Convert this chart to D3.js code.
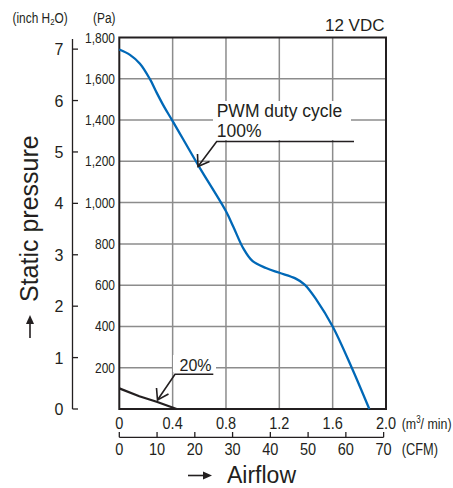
<!DOCTYPE html>
<html><head><meta charset="utf-8">
<script src="https://cdn.jsdelivr.net/npm/d3@7"></script>
<style>
html,body{margin:0;padding:0;background:#fff;}
svg{display:block;}
text{font-family:"Liberation Sans",Arial,sans-serif;fill:#231f20;}
</style></head>
<body><svg id="c" width="453" height="488"></svg>
<script>
// ---- data ----
const flow100 = [0,0.08,0.155,0.23,0.28,0.34,0.4,0.6,0.8,0.855,0.93,1.0,1.1,1.2,1.32,1.39,1.48,1.6,1.74,1.875];
const pres100 = [1742,1716,1673,1598,1533,1460,1395,1172,958,883,778,716,683,660,633,603,528,400,205,0];
const flow20 = [0,0.15,0.28,0.43];
const pres20 = [100,62,35,0];
const xTicks = [0,0.4,0.8,1.2,1.6,2.0];
const xTickLabels = ["0","0.4","0.8","1.2","1.6","2.0"];
const paTicks = [200,400,600,800,1000,1200,1400,1600,1800];
const paTickLabels = ["200","400","600","800","1,000","1,200","1,400","1,600","1,800"];
const inchTicks = [0,1,2,3,4,5,6,7];
const cfmTicks = [0,10,20,30,40,50,60,70];
const PA_PER_INCH = 249.09, CFM_PER_M3 = 35.315;

const svg = d3.select("#c");
const x = d3.scaleLinear().domain([0,2]).range([119.3,386]);
const y = d3.scaleLinear().domain([0,1800]).range([409,37.5]);
const yIn = d3.scaleLinear().domain([0,1800/PA_PER_INCH]).range([409,37.5]);
const xCfm = d3.scaleLinear().domain([0,2*CFM_PER_M3]).range([119.3,386]);

// condensed text helper (no narrow font installed)
function ntext(parent, px, py, size, anchor, sx){
  return parent.append("g").attr("transform",`translate(${px},${py}) scale(${sx||0.8},1)`)
    .append("text").attr("x",0).attr("y",0).attr("font-size",size).attr("text-anchor",anchor||"start");
}

// grid
const g = svg.append("g");
g.selectAll(".vg").data(xTicks.slice(1,-1)).enter().append("line")
  .attr("x1",d=>x(d)).attr("x2",d=>x(d)).attr("y1",y(0)).attr("y2",y(1800))
  .attr("stroke","#8c8c8c").attr("stroke-width",1.5);
g.selectAll(".hg").data(paTicks.slice(0,-1)).enter().append("line")
  .attr("x1",x(0)).attr("x2",x(2)).attr("y1",d=>y(d)).attr("y2",d=>y(d))
  .attr("stroke","#8c8c8c").attr("stroke-width",1.5);

// annotation knockout boxes
svg.append("rect").attr("x",213).attr("y",101).attr("width",138).attr("height",39).attr("fill","#fff");
svg.append("rect").attr("x",173).attr("y",355).attr("width",43).attr("height",17).attr("fill","#fff");

// frame
svg.append("rect").attr("x",x(0)).attr("y",y(1800)).attr("width",x(2)-x(0)).attr("height",y(0)-y(1800))
  .attr("fill","none").attr("stroke","#231f20").attr("stroke-width",2);

// curves
const line = d3.line().x(d=>x(d[0])).y(d=>y(d[1])).curve(d3.curveCatmullRom.alpha(0.5));
svg.append("path").datum(flow100.map((f,i)=>[f,pres100[i]])).attr("d",line)
  .attr("fill","none").attr("stroke","#0068b7").attr("stroke-width",2.3);
const line20 = d3.line().x(d=>x(d[0])).y(d=>y(d[1]));
svg.append("path").datum(flow20.map((f,i)=>[f,pres20[i]])).attr("d",line20)
  .attr("fill","none").attr("stroke","#231f20").attr("stroke-width",2.2);

// Pa tick labels
paTicks.forEach((d,i)=>{ ntext(svg,115,y(d)+5,15,"end",0.8).text(paTickLabels[i]); });

// inch axis
const ia = svg.append("g");
ia.append("line").attr("x1",72.5).attr("x2",72.5).attr("y1",39).attr("y2",409).attr("stroke","#231f20").attr("stroke-width",1.3);
ia.selectAll(".it").data(inchTicks).enter().append("line")
  .attr("x1",72.5).attr("x2",78).attr("y1",d=>yIn(d)).attr("y2",d=>yIn(d)).attr("stroke","#231f20").attr("stroke-width",1.3);
ia.selectAll(".il").data(inchTicks).enter().append("text")
  .attr("x",63.5).attr("y",d=>yIn(d)+6).attr("text-anchor","end").attr("font-size",16).text(d=>d);

// x ticks m3/min
xTicks.forEach((d,i)=>{ ntext(svg,x(d),428.5,16.5,"middle",0.88).text(xTickLabels[i]); });
const u1 = ntext(svg,401.7,428.5,15.5,"start",0.8);
u1.append("tspan").text("(m");
u1.append("tspan").attr("font-size",10).attr("dy",-6).text("3");
u1.append("tspan").attr("dy",6).text("/ min)");

// CFM axis
const ca = svg.append("g");
ca.append("line").attr("x1",xCfm(0)).attr("x2",xCfm(70)).attr("y1",437.3).attr("y2",437.3).attr("stroke","#231f20").attr("stroke-width",1.3);
ca.selectAll(".ct").data(cfmTicks).enter().append("line")
  .attr("x1",d=>xCfm(d)).attr("x2",d=>xCfm(d)).attr("y1",432).attr("y2",437.3).attr("stroke","#231f20").attr("stroke-width",1.3);
cfmTicks.forEach(d=>{ ntext(svg,xCfm(d),455,16.5,"middle",0.88).text(d); });
ntext(svg,401.7,455,16,"start",0.8).text("(CFM)");

// header labels
const ih = ntext(svg,12.5,23,14.5,"start",0.82);
ih.append("tspan").text("(inch H");
ih.append("tspan").attr("font-size",9.5).attr("dy",2).text("2");
ih.append("tspan").attr("dy",-2).text("O)");
ntext(svg,93,23,14.5,"start",0.82).text("(Pa)");
svg.append("text").attr("x",384.5).attr("y",30.5).attr("text-anchor","end").attr("font-size",17).text("12 VDC");

// axis titles with arrows
const arr = svg.append("g").attr("fill","#231f20").attr("stroke","#231f20");
arr.append("line").attr("x1",188).attr("x2",205).attr("y1",475.5).attr("y2",475.5).attr("stroke-width",1.6);
arr.append("path").attr("d","M212,475.5 L203,471.5 L203,479.5 Z").attr("stroke","none");
arr.append("line").attr("x1",30).attr("x2",30).attr("y1",338).attr("y2",322).attr("stroke-width",1.6);
arr.append("path").attr("d","M30,315 L26,324 L34,324 Z").attr("stroke","none");
svg.append("text").attr("x",227).attr("y",482.5).attr("font-size",23).text("Airflow");
svg.append("text").attr("transform","translate(38,302) rotate(-90)").attr("font-size",25).text("Static pressure");

// annotations
svg.append("text").attr("x",216.7).attr("y",116.7).attr("font-size",17.5).text("PWM duty cycle");
svg.append("text").attr("x",216.7).attr("y",136.7).attr("font-size",17.5).text("100%");
const ann = svg.append("g").attr("fill","none").attr("stroke","#231f20").attr("stroke-width",1.6);
ann.append("path").attr("d","M354,141.5 H216.7 L198,166.5");
ann.append("path").attr("d","M197.5,154 L198,166.5 L209.5,161.5");
svg.append("text").attr("x",179.5).attr("y",371).attr("font-size",16).text("20%");
ann.append("path").attr("d","M213.3,374.3 H175 L157.5,400");
ann.append("path").attr("d","M156.5,388 L157.5,400 L168.5,394");
</script></body></html>
